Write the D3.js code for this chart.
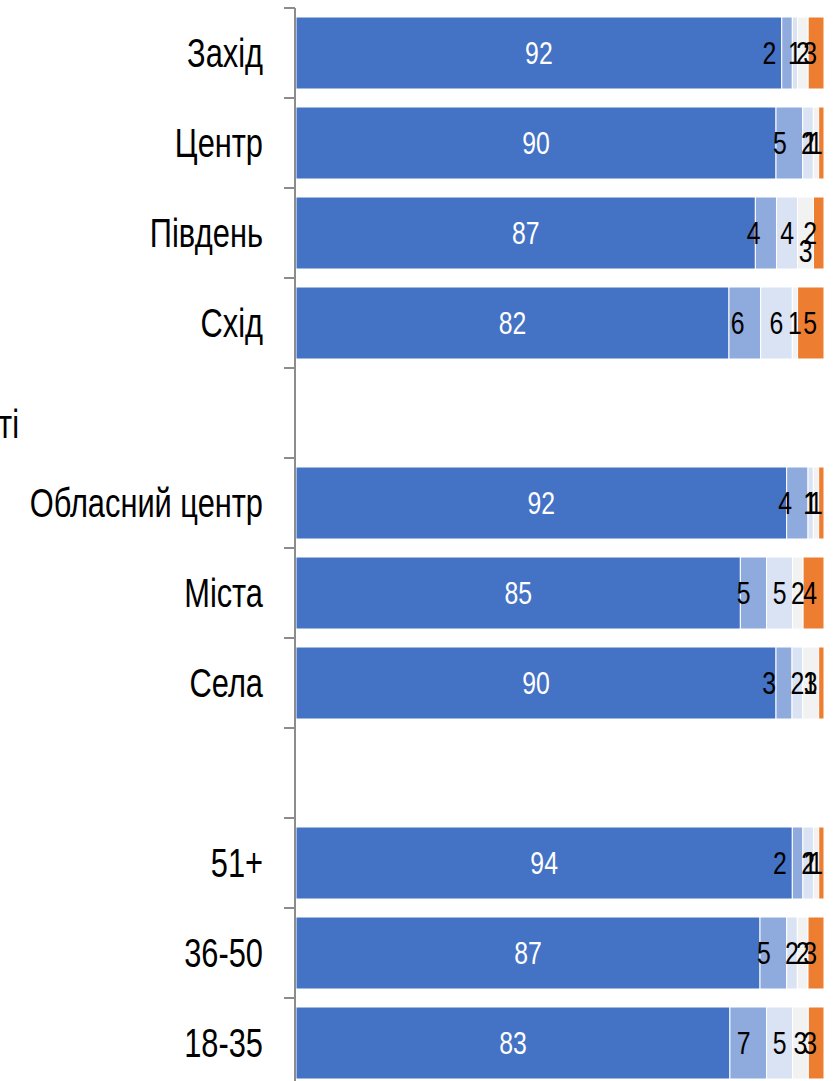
<!DOCTYPE html>
<html>
<head>
<meta charset="utf-8">
<script src="https://cdn.jsdelivr.net/npm/d3@7"></script>
<style>
  body { margin: 0; background: #fff; }
  svg { display: block; font-family: "Liberation Sans", Arial, sans-serif; }
</style>
</head>
<body>
<svg id="chart" width="838" height="1081"></svg>
<script>
// categories, top to bottom ("" = empty spacer row)
var categories = ["Захід", "Центр", "Південь", "Схід", "", "Обласний центр", "Міста", "Села", "", "51+", "36-50", "18-35"];

// series values per category (percent)
var s1 = [92, 90, 87, 82, null, 92, 85, 90, null, 94, 87, 83];
var s2 = [2, 5, 4, 6, null, 4, 5, 3, null, 2, 5, 7];
var s3 = [1, 2, 4, 6, null, 1, 5, 2, null, 2, 2, 5];
var s4 = [2, 1, 3, 1, null, 1, 2, 3, null, 1, 2, 3];
var s5 = [3, 1, 2, 5, null, 1, 4, 1, null, 1, 3, 3];

// group label in the spacer row (mostly cut off on the left)
var groupLabel = "Тип населеного пункту в області";

var colors = ["#4472C4", "#8FAADC", "#DAE3F3", "#F2F2F2", "#ED7D31"];
var labelColors = ["#ffffff", "#000000", "#000000", "#000000", "#000000"];

var series = [s1, s2, s3, s4, s5];

var svg = d3.select("#chart");

var x0 = 296, x1 = 824;
var plotTop = 8, rowH = 90;

var yScale = d3.scaleBand()
    .domain(d3.range(categories.length))
    .range([plotTop, plotTop + rowH * categories.length])
    .paddingInner(0.2)
    .paddingOuter(0.1);

var xScale = d3.scaleLinear().domain([0, 1]).range([x0, x1]);

// build stacked rows (100% stacked)
var rows = [];
categories.forEach(function (c, i) {
    if (s1[i] == null) return;
    var total = d3.sum(series, function (s) { return s[i]; });
    var acc = 0;
    series.forEach(function (s, k) {
        rows.push({ i: i, k: k, v: s[i], a: acc / total, b: (acc + s[i]) / total });
        acc += s[i];
    });
});

var g = svg.append("g");

g.selectAll("rect.seg")
    .data(rows)
    .enter().append("rect")
    .attr("class", "seg")
    .attr("x", function (d) { return xScale(d.a); })
    .attr("y", function (d) { return yScale(d.i); })
    .attr("width", function (d) { return xScale(d.b) - xScale(d.a); })
    .attr("height", yScale.bandwidth())
    .attr("fill", function (d) { return colors[d.k]; })
    .attr("stroke", "#ffffff")
    .attr("stroke-width", 1);

// label placement: 2nd series sits at the inside end, orange nudged in from the end
function labelX(d) {
    if (d.k == 1) return xScale(d.b) - 16;
    if (d.k == 4) return xScale(d.b) - 7;
    return (xScale(d.a) + xScale(d.b)) / 2;
}
function labelAnchor(d) {
    return (d.k == 1 || d.k == 4) ? "end" : "middle";
}
// Excel pushed the grey label of "Південь" down to dodge its neighbours
function labelDy(d) {
    return (d.i == 2 && d.k == 3) ? 18 : 0;
}

g.selectAll("text.val")
    .data(rows)
    .enter().append("text")
    .attr("class", "val")
    .attr("transform", function (d) {
        var cy = yScale(d.i) + yScale.bandwidth() / 2 + labelDy(d);
        return "translate(" + labelX(d) + "," + cy + ") scale(0.8,1)";
    })
    .attr("text-anchor", labelAnchor)
    .attr("dy", "0.36em")
    .attr("font-size", 31)
    .attr("fill", function (d) { return labelColors[d.k]; })
    .text(function (d) { return d.v; });

// category axis
var axis = svg.append("g");
axis.append("line")
    .attr("x1", x0 - 1).attr("x2", x0 - 1)
    .attr("y1", plotTop).attr("y2", 1081)
    .attr("stroke", "#8c8c8c").attr("stroke-width", 2);

axis.selectAll("line.tick")
    .data(d3.range(categories.length + 1))
    .enter().append("line")
    .attr("class", "tick")
    .attr("x1", x0 - 12).attr("x2", x0 - 1)
    .attr("y1", function (k) { return plotTop + k * rowH; })
    .attr("y2", function (k) { return plotTop + k * rowH; })
    .attr("stroke", "#8c8c8c").attr("stroke-width", 2);

axis.selectAll("text.cat")
    .data(categories)
    .enter().append("text")
    .attr("class", "cat")
    .attr("transform", function (c, i) {
        return "translate(263," + (yScale(i) + yScale.bandwidth() / 2) + ") scale(0.77,1)";
    })
    .attr("text-anchor", "end")
    .attr("dy", "0.36em")
    .attr("font-size", 40)
    .attr("fill", "#000")
    .text(function (c) { return c; });

axis.append("text")
    .attr("transform", "translate(19," + (yScale(4) + yScale.bandwidth() / 2 + 11) + ") scale(0.77,1)")
    .attr("text-anchor", "end")
    .attr("dy", "0.36em")
    .attr("font-size", 40)
    .attr("fill", "#000")
    .text(groupLabel);
</script>
</body>
</html>
